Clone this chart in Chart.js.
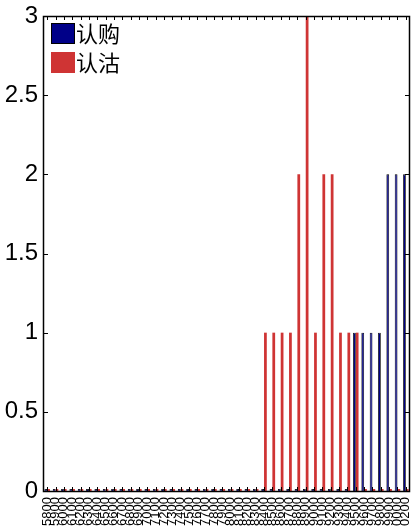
<!DOCTYPE html>
<html>
<head>
<meta charset="utf-8">
<script src="https://cdn.jsdelivr.net/npm/chart.js@4/dist/chart.umd.min.js"></script>
<style>
  html, body { margin: 0; padding: 0; background: #fff; }
  canvas { display: block; }
</style>
</head>
<body>
<canvas id="myChart" width="414" height="526"></canvas>
<script>
// Strikes (x categories)
const strikes = [
  '5800', '5900', '6000', '6100', '6200', '6300', '6400', '6500', '6600', '6700',
  '6800', '6900', '7000', '7100', '7200', '7300', '7400', '7500', '7600', '7700',
  '7800', '7900', '8000', '8100', '8200', '8300', '8400', '8500', '8600', '8700',
  '8800', '8900', '9000', '9100', '9200', '9300', '9400', '9500', '9600', '9700',
  '9800', '9900', '10000', '10200'
];

// 认购 (call) counts per strike
const callCounts = [
  0, 0, 0, 0, 0, 0, 0, 0, 0, 0,
  0, 0, 0, 0, 0, 0, 0, 0, 0, 0,
  0, 0, 0, 0, 0, 0, 0, 0, 0, 0,
  0, 0, 0, 0, 0, 0, 0, 1, 1, 1,
  1, 2, 2, 2
];

// 认沽 (put) counts per strike
const putCounts = [
  0, 0, 0, 0, 0, 0, 0, 0, 0, 0,
  0, 0, 0, 0, 0, 0, 0, 0, 0, 0,
  0, 0, 0, 0, 0, 0, 1, 1, 1, 1,
  2, 3, 1, 2, 2, 1, 1, 1, 0, 0,
  0, 0, 0, 0
];

const yTicks = [0, 0.5, 1, 1.5, 2, 2.5, 3];

// Marco, marcas hacia dentro y leyenda dentro del area
const frame = {
  id: 'frame',
  afterDatasetsDraw(chart) {
    const { ctx, chartArea: a, scales: { x, y } } = chart;
    ctx.save();
    ctx.strokeStyle = '#000';
    ctx.lineWidth = 1;
    ctx.beginPath();
    x.ticks.forEach((t, i) => {
      const px = Math.round(x.getPixelForTick(i)) + 0.5;
      ctx.moveTo(px, a.bottom);
      ctx.lineTo(px, a.bottom - 4);
      ctx.moveTo(px, a.top);
      ctx.lineTo(px, a.top + 4);
    });
    y.ticks.forEach((t, i) => {
      const py = Math.round(y.getPixelForTick(i)) + 0.5;
      ctx.moveTo(a.left, py);
      ctx.lineTo(a.left + 5, py);
      ctx.moveTo(a.right, py);
      ctx.lineTo(a.right - 5, py);
    });
    ctx.stroke();
    ctx.lineWidth = 1.5;
    ctx.strokeRect(a.left + 0.5, a.top + 0.5, a.right - a.left - 1, a.bottom - a.top);

    // leyenda
    ctx.font = '22px "Noto Sans CJK SC"';
    ctx.textBaseline = 'middle';
    ctx.textAlign = 'left';
    chart.data.datasets.forEach((ds, i) => {
      const bx = a.left + 8;
      const by = a.top + 7 + i * 29;
      ctx.fillStyle = ds.backgroundColor;
      ctx.fillRect(bx, by, 24, 21);
      ctx.lineWidth = 1;
      ctx.strokeStyle = ds.borderColor;
      ctx.strokeRect(bx + 0.5, by + 0.5, 23, 20);
      ctx.fillStyle = '#000';
      ctx.fillText(ds.label, bx + 25, by + 11);
    });
    ctx.restore();
  }
};

const ctx = document.getElementById('myChart').getContext('2d');
new Chart(ctx, {
  type: 'bar',
  data: {
    labels: strikes,
    datasets: [
      {
        label: '认购',
        data: callCounts,
        backgroundColor: '#000088',
        borderColor: '#000000',
        borderWidth: 0.8,
        minBarLength: 2,
        categoryPercentage: 0.66,
        barPercentage: 1.0
      },
      {
        label: '认沽',
        data: putCounts,
        backgroundColor: '#cf3434',
        borderColor: '#cf3434',
        borderWidth: 0,
        minBarLength: 2,
        categoryPercentage: 0.66,
        barPercentage: 1.0
      }
    ]
  },
  options: {
    responsive: false,
    animation: false,
    devicePixelRatio: 1,
    layout: { padding: { top: 16, right: 4, left: 0, bottom: 0 } },
    plugins: {
      legend: { display: false },
      tooltip: { enabled: false }
    },
    scales: {
      x: {
        grid: { display: false, drawTicks: false },
        border: { display: false },
        afterFit(scale) {
          scale.height = 35;
          scale.paddingLeft = 0;
          scale.paddingRight = 0;
        },
        ticks: {
          autoSkip: false,
          minRotation: 90,
          maxRotation: 90,
          padding: 6,
          color: '#000',
          font: { family: '"Liberation Sans"', size: 13 }
        }
      },
      y: {
        min: 0,
        max: 3,
        grid: { display: false, drawTicks: false },
        border: { display: false },
        afterFit(scale) {
          scale.width = 43;
          scale.paddingTop = 0;
          scale.paddingBottom = 0;
        },
        afterBuildTicks(scale) { scale.ticks = yTicks.map(v => ({ value: v })); },
        ticks: {
          padding: 5,
          color: '#000',
          font: { family: '"Liberation Sans"', size: 24 },
          callback: value => String(value)
        }
      }
    }
  },
  plugins: [frame]
});
</script>
</body>
</html>
